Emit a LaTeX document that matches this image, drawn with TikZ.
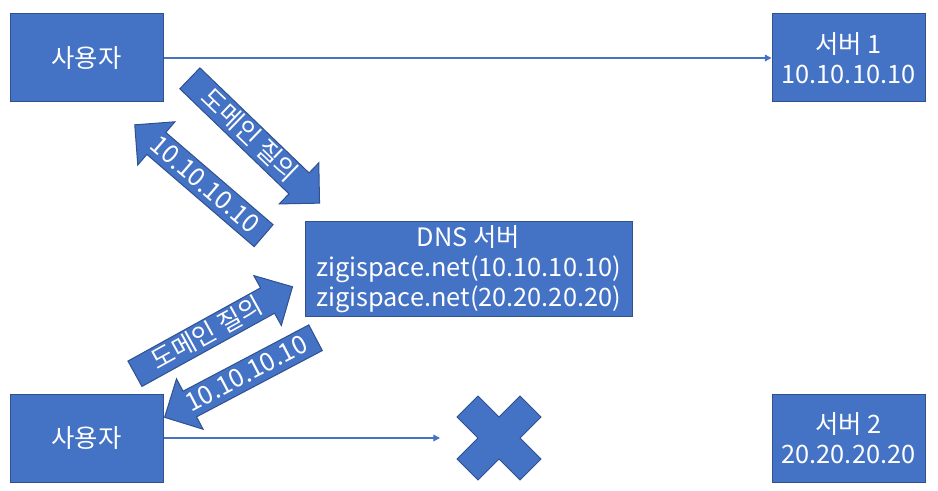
\documentclass[tikz,border=0pt]{standalone}
\usepackage{fontspec}
\setmainfont{Noto Sans CJK KR}
\usetikzlibrary{arrows.meta, shapes.arrows, positioning}
\definecolor{boxblue}{HTML}{4472C4}
\definecolor{edgeblue}{HTML}{2F528F}

\tikzset{
  hostbox/.style={draw=edgeblue, line width=0.75pt, fill=boxblue, text=white,
    font=\fontsize{19pt}{22.5pt}\selectfont, align=center,
    minimum width=114.75pt, minimum height=66pt, inner sep=0pt},
  blockarrow/.style={single arrow, single arrow head extend=10.5pt,
    draw=edgeblue, line width=0.75pt, fill=boxblue, text=white,
    font=\fontsize{19pt}{22.5pt}\selectfont, inner sep=0pt,
    text height=16.8pt, text depth=4.2pt, anchor=tail},
  link/.style={draw=boxblue, line width=1pt, -{Triangle[length=5pt, width=5pt]}},
}

\begin{document}
\begin{tikzpicture}[x=0.75pt, y=-0.75pt]
    \useasboundingbox (0,0) rectangle (938,491);

    % Hosts
    \node[hostbox] (user1) at (86.5,58) {사용자};
    \node[hostbox] (srv1) at (848.5,58) {서버 1\\10.10.10.10};
    \node[hostbox, minimum width=245.25pt, minimum height=71.25pt] (dns) at (468.5,269.5)
        {DNS 서버\\zigispace.net(10.10.10.10)\\zigispace.net(20.20.20.20)};
    \node[hostbox] (user2) at (86.5,438) {사용자};
    \node[hostbox] (srv2) at (848.5,438) {서버 2\\20.20.20.20};

    % Connections
    \draw[link] (user1) -- (srv1);
    \coordinate (stop) at (440,438);
    \draw[link] (user2) -- (stop);

    % Query / answer : upper user
    \node[blockarrow, minimum height=135pt, rotate=-43.9] (askA) at (189.5,78) {도메인 질의};
    \node[blockarrow, minimum height=127.5pt, shape border rotate=180, rotate=-40.7] (ansA) at (264,236) {10.10.10.10};

    % Query / answer : lower user
    \node[blockarrow, minimum height=135pt, rotate=28.9] (askB) at (134.5,374) {도메인 질의};
    \node[blockarrow, minimum height=128pt, shape border rotate=180, rotate=27.8] (ansB) at (316,337.5) {10.10.10.10};

    % Blocked
    \begin{scope}[shift={(499,438)}]
        \draw[edgeblue, line width=0.75pt, fill=boxblue]
            (-42,-21) -- (-21,-42) -- (0,-21) -- (21,-42) -- (42,-21) -- (21,0)
            -- (42,21) -- (21,42) -- (0,21) -- (-21,42) -- (-42,21) -- (-21,0) -- cycle;
    \end{scope}
\end{tikzpicture}
\end{document}
